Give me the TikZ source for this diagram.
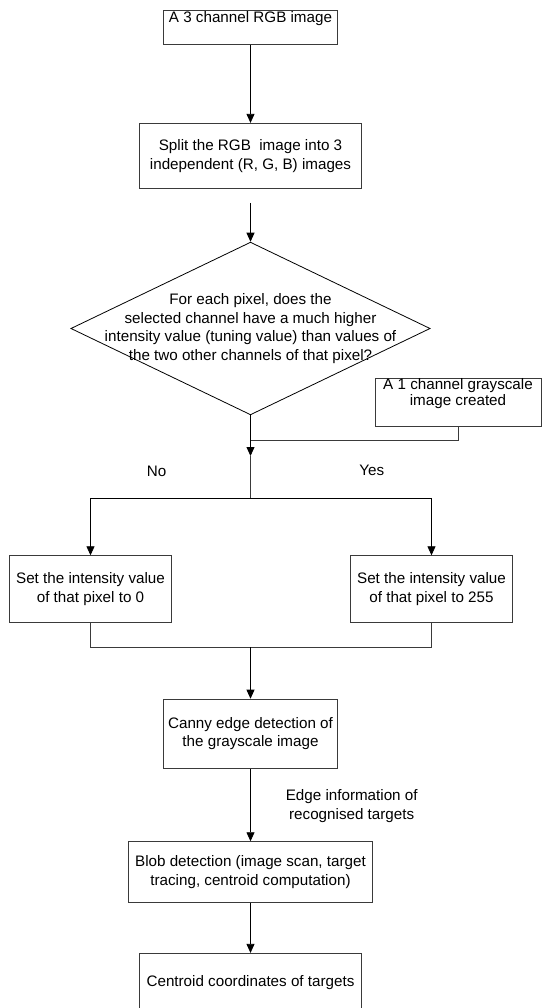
\documentclass[tikz,border=0pt]{standalone}
\usepackage{fontspec}
\setmainfont{Liberation Sans}
\usepackage{xcolor}
\definecolor{frame}{HTML}{3A3A3A}
\usetikzlibrary{arrows.meta, shapes.geometric, positioning, calc}

\begin{document}
\begin{tikzpicture}[
  x=1pt, y=-1pt,
  box/.style={draw=frame, line width=0.8pt, minimum width=#1,
    inner sep=0pt, align=center,
    font=\fontsize{15.2}{18.5}\selectfont},
  txt/.style={inner sep=0pt, align=center,
    font=\fontsize{15.2}{18.5}\selectfont},
  arrow/.style={draw=black, line width=0.8pt, -{Triangle[width=8pt,length=9pt]}},
  link/.style={draw=frame, line width=0.8pt}
]
  \useasboundingbox (0,0) rectangle (542,1008);

  % top of the chain
  \node[box=173.4, minimum height=34.3] (rgb) at (250.5,27.2) {};
  \node[txt, anchor=north, inner sep=1.2pt] (rgbtxt) at (rgb.north) {A 3 channel RGB image};
  \node[box=221.4, minimum height=65.2] (split) at (250.5,155.9)
    {Split the RGB\ \ image into 3\\independent (R, G, B) images};
  \coordinate (splitout) at (250.5,203);

  % the test
  \node[draw=black, line width=0.8pt, diamond, inner sep=0pt,
    minimum width=359.3, minimum height=172.7] (test) at (250.5,328.5) {};
  \node[txt] (testtxt) at (test.center)
    {For each pixel, does the\\selected channel have a much higher\\intensity value (tuning value) than values of\\the two other channels of that pixel?};

  \node[box=166, minimum height=47.7] (gray) at (458,402.2) {};
  \node[txt, anchor=north, font=\fontsize{15.2}{16.5}\selectfont] (graytxt) at (gray.north)
    {A 1 channel grayscale\\image created};

  \coordinate (join) at (250.5,440.7);
  \coordinate (mid) at (250.5,456);
  \coordinate (fork) at (250.5,498.3);
  \coordinate (merge) at (250.5,647.2);

  \node[txt] (no) at (156.7,471.7) {No};
  \node[txt] (yes) at (371.7,470.7) {Yes};

  % the two branches
  \node[box=162.4, minimum height=67] (zero) at (90.5,589.2)
    {Set the intensity value\\of that pixel to 0};
  \node[box=162.4, minimum height=67] (full) at (431.5,589.2)
    {Set the intensity value\\of that pixel to 255};

  % after the merge
  \node[box=174, minimum height=69.4] (canny) at (250.5,733.8)
    {Canny edge detection of\\the grayscale image};
  \node[txt] (edgeinfo) at (351.7,806) {Edge information of\\recognised targets};
  \node[box=244, minimum height=60.9] (blob) at (250.5,872.1)
    {Blob detection (image scan, target\\tracing, centroid computation)};
  \node[box=221.4, minimum height=58] (centroid) at (250.5,982.3)
    {Centroid coordinates of targets};

  \draw[arrow] (rgb.south) -- (split.north);
  \draw[arrow] (splitout) -- (test.north);
  \draw[arrow] (test.south) -- (mid);
  \draw[link] (mid) -- (fork);
  \draw[link] (gray.south) |- (join);
  \draw[arrow] (fork) -| (zero.north);
  \draw[arrow] (fork) -| (full.north);
  \draw[link] (zero.south) |- (merge) -| (full.south);
  \draw[arrow] (merge) -- (canny.north);
  \draw[arrow] (canny.south) -- (blob.north);
  \draw[arrow] (blob.south) -- (centroid.north);
\end{tikzpicture}
\end{document}
